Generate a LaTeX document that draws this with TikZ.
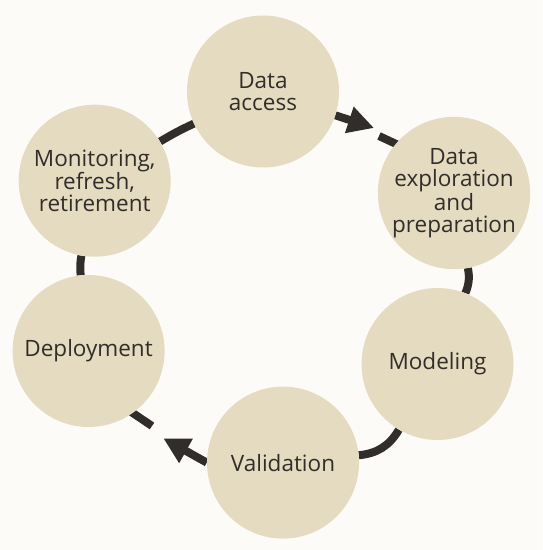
\documentclass[tikz,border=0pt]{standalone}
\usepackage{fontspec}
\setmainfont{Open Sans}
\usetikzlibrary{arrows.meta,backgrounds}
\definecolor{paper}{HTML}{FCFBF8}
\definecolor{sand}{HTML}{E5DBC0}
\definecolor{ink}{HTML}{312D2A}
\begin{document}
\begin{tikzpicture}[x=1pt, y=1pt,
        stage/.style={circle, fill=sand, minimum size=152pt, inner sep=0pt,
            align=center, text=ink, font=\fontsize{22.5}{22}\selectfont},
        flow/.style={draw=ink, line width=8pt},
        head/.style={-{Triangle[length=26pt, width=26pt]}}]
    %\draw[help lines, step=50] (0, 0) grid (542, 550);
    \useasboundingbox (0, 0) rectangle (542, 550);
    \node[stage] (access) at (263, 458.5) {Data\\access};
    \node[stage] (explore) at (454, 357) {Data\\exploration\\and\\preparation};
    \node[stage] (model) at (437.5, 186) {Modeling};
    \node[stage] (valid) at (283, 87.4) {Validation};
    \node[stage] (deploy) at (88.6, 199) {Deployment};
    \node[stage] (monitor) at (94.7, 369.3) {Monitoring,\\refresh,\\retirement};
    \coordinate (tipA) at (374, 422);
    \coordinate (dashA) at (379, 414);
    \coordinate (tipV) at (163.3, 111.7);
    \coordinate (dashV) at (152, 124);
    \begin{scope}[on background layer]
        \fill[paper] (0, 0) rectangle (542, 550);
        \draw[flow] (monitor) to[bend left=3] (access);
        \draw[flow, head] (access) -- (tipA);
        \draw[flow] (dashA) -- ++(-25:28);
        \draw[flow] (explore) to[bend left=16] (model);
        \draw[flow] (model) to[bend left=27] (valid);
        \draw[flow, head] (valid.west) -- (tipV);
        \draw[flow] (dashV) -- ++(146:30);
        \draw[flow] (deploy) to[bend left=8] (monitor);
    \end{scope}
\end{tikzpicture}
\end{document}
